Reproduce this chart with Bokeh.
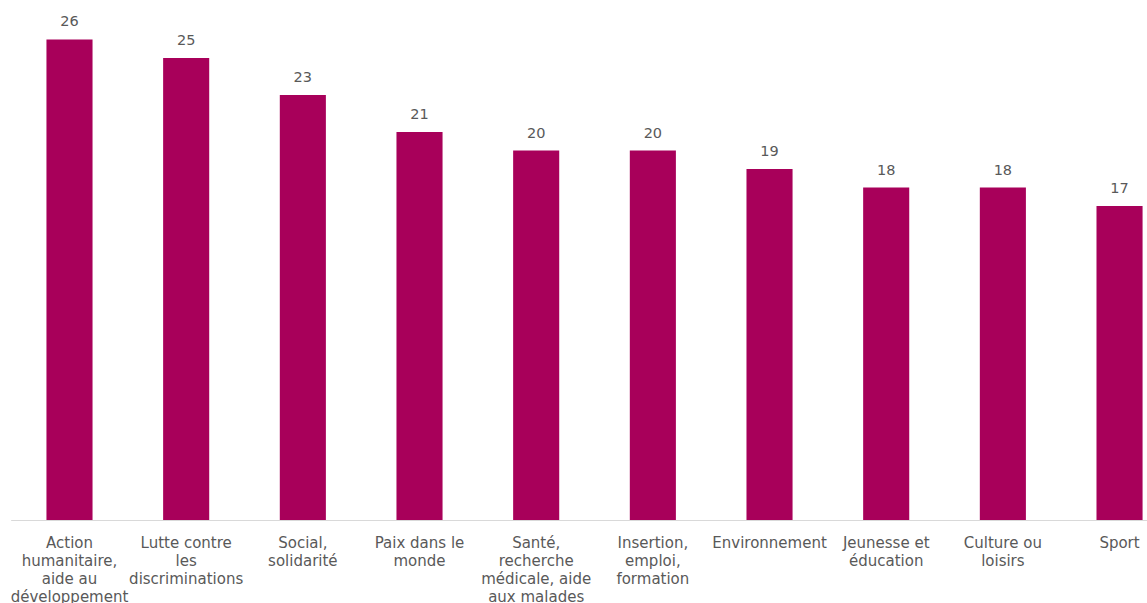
from bokeh.plotting import figure
from bokeh.models import ColumnDataSource, Range1d
from bokeh.core.properties import value
from bokeh.embed import file_html
from bokeh.resources import INLINE

categories = [
    "Action\nhumanitaire,\naide au\ndéveloppement",
    "Lutte contre\nles\ndiscriminations",
    "Social,\nsolidarité",
    "Paix dans le\nmonde",
    "Santé,\nrecherche\nmédicale, aide\naux malades",
    "Insertion,\nemploi,\nformation",
    "Environnement",
    "Jeunesse et\néducation",
    "Culture ou\nloisirs",
    "Sport",
]
values = [26, 25, 23, 21, 20, 20, 19, 18, 18, 17]

BAR = "#A8005A"
TXT = "#595959"
FONT = "DejaVu Sans"

xs = list(range(len(values)))
src = ColumnDataSource(dict(
    x=xs, top=values, zero=[0] * len(values),
    vlab=[str(v) for v in values],
))

# one row per label line, so that line spacing can be set exactly
lx, ltxt, loff = [], [], []
for i, c in enumerate(categories):
    for j, line in enumerate(c.split("\n")):
        lx.append(i)
        ltxt.append(line)
        loff.append(22 + 18 * j)
lsrc = ColumnDataSource(dict(x=lx, y=[0] * len(lx), t=ltxt, off=loff))

W, H = 1147, 603
p = figure(width=W, height=H, output_backend="svg", toolbar_location=None,
           x_range=Range1d(-0.5914, 9.2397), y_range=Range1d(-4.486, 28.108),
           min_border=0, min_border_left=0, min_border_right=0,
           min_border_top=0, min_border_bottom=0)
p.axis.visible = False
p.grid.visible = False
p.outline_line_color = None
p.background_fill_color = "white"
p.border_fill_color = "white"

p.vbar(x="x", top="top", bottom=0, width=0.395, source=src,
       fill_color=BAR, line_color=None)

# baseline axis
p.segment(x0=-0.5, y0=0, x1=9.8, y1=0, line_color="#d9d9d9", line_width=1)

p.text(x="x", y="top", text="vlab", source=src, text_align="center",
       text_baseline="middle", y_offset=-18, text_color=TXT,
       text_font=value(FONT), text_font_size="14.5px")

p.text(x="x", y="y", text="t", source=lsrc, text_align="center",
       text_baseline="middle", y_offset="off", text_color=TXT,
       text_font=value(FONT), text_font_size="15px")

open("out.html", "w").write(file_html(p, INLINE))
